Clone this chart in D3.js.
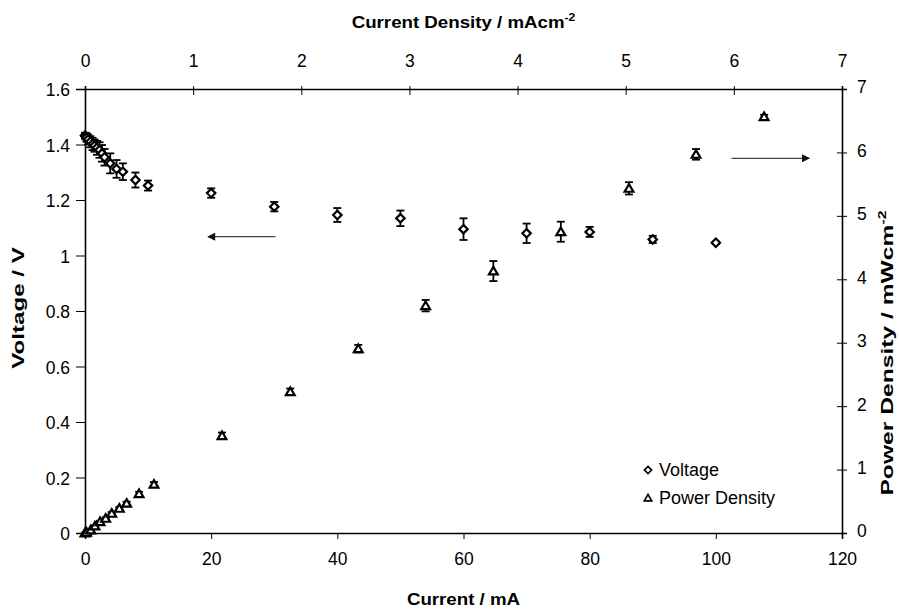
<!DOCTYPE html>
<html>
<head>
<meta charset="utf-8">
<script src="https://cdn.jsdelivr.net/npm/d3@7"></script>
<style>
  html, body { margin: 0; padding: 0; background: #fff; }
  svg { display: block; }
  text { font-family: "Liberation Sans", Arial, sans-serif; fill: #000; }
</style>
</head>
<body>
<svg id="chart" width="899" height="609"></svg>
<script>
// ---- Data ----
// Voltage vs current (bottom axis mA, left axis V)
const voltageCurrent = [0, 0.1, 0.25, 0.5, 0.85, 1.2, 1.5, 1.9, 2.3, 2.7, 3.1, 4.0, 5.0, 6.0, 8.0, 10, 20, 30, 40, 50, 60, 70, 80, 90, 100];
const voltageValues  = [1.432, 1.43, 1.425, 1.418, 1.41, 1.402, 1.396, 1.388, 1.38, 1.368, 1.354, 1.332, 1.312, 1.302, 1.272, 1.252, 1.225, 1.176, 1.146, 1.134, 1.095, 1.080, 1.085, 1.058, 1.046];
const voltageErrors  = [0.01, 0.012, 0.015, 0.018, 0.02, 0.022, 0.022, 0.025, 0.028, 0.03, 0.03, 0.036, 0.032, 0.03, 0.027, 0.018, 0.017, 0.017, 0.025, 0.028, 0.039, 0.035, 0.018, 0.013, 0.004];

// Power density vs current density (top axis mA/cm2, right axis mW/cm2)
const powerCurrentDensity = [0.0, 0.015, 0.053, 0.092, 0.139, 0.191, 0.247, 0.317, 0.385, 0.50, 0.638, 1.267, 1.898, 2.527, 3.15, 3.776, 4.40, 5.03, 5.65, 6.28];
const powerValues         = [0.0, 0.01, 0.047, 0.11, 0.178, 0.231, 0.31, 0.389, 0.468, 0.62, 0.768, 1.534, 2.228, 2.906, 3.584, 4.13, 4.75, 5.434, 5.97, 6.563];
const powerErrors         = [0.005, 0.005, 0.01, 0.01, 0.015, 0.015, 0.02, 0.02, 0.025, 0.03, 0.035, 0.05, 0.05, 0.06, 0.09, 0.158, 0.158, 0.097, 0.084, 0.03];

// Axis ticks and labels
const bottomTicks = [0, 20, 40, 60, 80, 100, 120];
const topTicks = [0, 1, 2, 3, 4, 5, 6, 7];
const leftTicks = [0, 0.2, 0.4, 0.6, 0.8, 1.0, 1.2, 1.4, 1.6];
const leftTickLabels = ["0", "0.2", "0.4", "0.6", "0.8", "1", "1.2", "1.4", "1.6"];
const rightTicks = [0, 1, 2, 3, 4, 5, 6, 7];

const seriesNames = ["Voltage", "Power Density"];

// ---- Layout ----
const svg = d3.select("#chart");
const L = 85, R = 842, T = 89, B = 533;

const xBottom = d3.scaleLinear().domain([0, 120]).range([L, R]);
const xTop = d3.scaleLinear().domain([0, 7]).range([L, R]);
const yLeft = d3.scaleLinear().domain([0, 1.6]).range([B, T]);
const yRight = d3.scaleLinear().domain([0, 7]).range([B, T]);

const tickFont = 17.5;

// Bottom axis
const gB = svg.append("g").attr("transform", `translate(0,${B})`)
  .call(d3.axisBottom(xBottom).tickValues(bottomTicks).tickFormat(d3.format("d")).tickSizeOuter(0).tickSize(6).tickPadding(14));
// Top axis
const gT = svg.append("g").attr("transform", `translate(0,${T})`)
  .call(d3.axisTop(xTop).tickValues(topTicks).tickFormat(d3.format("d")).tickSizeOuter(0).tickSize(3).tickPadding(19));
gT.selectAll(".tick line").attr("y1", 6);
// Left axis
const gL = svg.append("g").attr("transform", `translate(${L},0)`)
  .call(d3.axisLeft(yLeft).tickValues(leftTicks).tickFormat((d, i) => leftTickLabels[i]).tickSizeOuter(0).tickSize(9).tickPadding(6));
gL.selectAll(".tick line").attr("x1", 1);
// Right axis
const gR = svg.append("g").attr("transform", `translate(${R},0)`)
  .call(d3.axisRight(yRight).tickValues(rightTicks).tickFormat(d3.format("d")).tickSizeOuter(0).tickSize(5).tickPadding(10));
gR.selectAll(".tick line").attr("x1", -5);

[gB, gT, gL, gR].forEach(g => {
  g.select(".domain").attr("stroke", "#000").attr("stroke-width", 1.6);
  g.selectAll(".tick line").attr("stroke", "#000").attr("stroke-width", 1);
  g.selectAll(".tick text").attr("font-size", tickFont)
    .attr("font-family", "'Liberation Sans', Arial, sans-serif").attr("fill", "#000");
});
gL.selectAll(".tick text").attr("dy", "0.38em");
gR.selectAll(".tick text").attr("dy", "0.22em");

// Axis titles (vertical titles are stretched along the reading direction as in the scan)
const titleFont = 17;
svg.append("text").attr("transform", `translate(${(L + R) / 2},28) scale(1.1,1)`).attr("text-anchor", "middle")
  .attr("font-size", titleFont).attr("font-weight", "bold")
  .html('Current Density / mAcm<tspan dy="-7" font-size="11">-2</tspan>');
svg.append("text").attr("transform", `translate(${(L + R) / 2},605) scale(1.1,1)`).attr("text-anchor", "middle")
  .attr("font-size", titleFont).attr("font-weight", "bold").text("Current / mA");
svg.append("text").attr("transform", `translate(24,308) rotate(-90) scale(1.42,1)`).attr("text-anchor", "middle")
  .attr("font-size", titleFont).attr("font-weight", "bold").text("Voltage / V");
svg.append("text").attr("transform", `translate(893,353) rotate(-90) scale(1.45,1)`).attr("text-anchor", "middle")
  .attr("font-size", titleFont).attr("font-weight", "bold")
  .html('Power Density / mWcm<tspan dy="-7" font-size="11">-2</tspan>');

// ---- Markers ----
const diamondPath = "M0,-4.2L4.2,0L0,4.2L-4.2,0Z";
const trianglePath = "M0,-4.2L4.4,3.4L-4.4,3.4Z";

const vData = voltageCurrent.map((c, i) => ({ x: c, y: voltageValues[i], e: voltageErrors[i] }));
const pData = powerCurrentDensity.map((c, i) => ({ x: c, y: powerValues[i], e: powerErrors[i] }));

function errorBars(data, xs, ys) {
  const g = svg.append("g").attr("stroke", "#000").attr("stroke-width", 1.8).attr("fill", "none");
  data.forEach(d => {
    const cx = xs(d.x), y1 = ys(d.y + d.e), y2 = ys(d.y - d.e);
    g.append("line").attr("x1", cx).attr("x2", cx).attr("y1", y1).attr("y2", y2);
    g.append("line").attr("x1", cx - 4).attr("x2", cx + 4).attr("y1", y1).attr("y2", y1);
    g.append("line").attr("x1", cx - 4).attr("x2", cx + 4).attr("y1", y2).attr("y2", y2);
  });
}
errorBars(vData, xBottom, yLeft);
errorBars(pData, xTop, yRight);

svg.append("g").selectAll("path").data(vData).join("path")
  .attr("d", diamondPath)
  .attr("transform", d => `translate(${xBottom(d.x)},${yLeft(d.y)})`)
  .attr("fill", "#fff").attr("stroke", "#000").attr("stroke-width", 2.2);

svg.append("g").selectAll("path").data(pData).join("path")
  .attr("d", trianglePath)
  .attr("transform", d => `translate(${xTop(d.x)},${yRight(d.y)})`)
  .attr("fill", "#fff").attr("stroke", "#000").attr("stroke-width", 2.2);

// ---- Arrows ----
const defs = svg.append("defs");
defs.append("marker").attr("id", "ah").attr("viewBox", "0 0 10 10").attr("refX", 9).attr("refY", 5)
  .attr("markerWidth", 10).attr("markerHeight", 8).attr("markerUnits", "userSpaceOnUse").attr("orient", "auto")
  .append("path").attr("d", "M0,0L10,5L0,10Z").attr("fill", "#111");
svg.append("line")
  .attr("x1", xBottom(30.2)).attr("x2", xBottom(19.5))
  .attr("y1", yLeft(1.068)).attr("y2", yLeft(1.068))
  .attr("stroke", "#444").attr("stroke-width", 1.4).attr("marker-end", "url(#ah)");
svg.append("line")
  .attr("x1", xBottom(102.5)).attr("x2", xBottom(114.8))
  .attr("y1", yRight(5.907)).attr("y2", yRight(5.907))
  .attr("stroke", "#444").attr("stroke-width", 1.4).attr("marker-end", "url(#ah)");

// ---- Legend ----
const lg = svg.append("g").attr("transform", "translate(648,470)");
lg.append("path").attr("d", diamondPath).attr("transform", "scale(0.85)")
  .attr("fill", "#fff").attr("stroke", "#000").attr("stroke-width", 2);
lg.append("text").attr("x", 11).attr("y", 6).attr("font-size", 18).text(seriesNames[0]);
lg.append("path").attr("d", trianglePath).attr("transform", "translate(0,28) scale(0.85)")
  .attr("fill", "#fff").attr("stroke", "#000").attr("stroke-width", 2);
lg.append("text").attr("x", 11).attr("y", 34).attr("font-size", 18).text(seriesNames[1]);
</script>
</body>
</html>
